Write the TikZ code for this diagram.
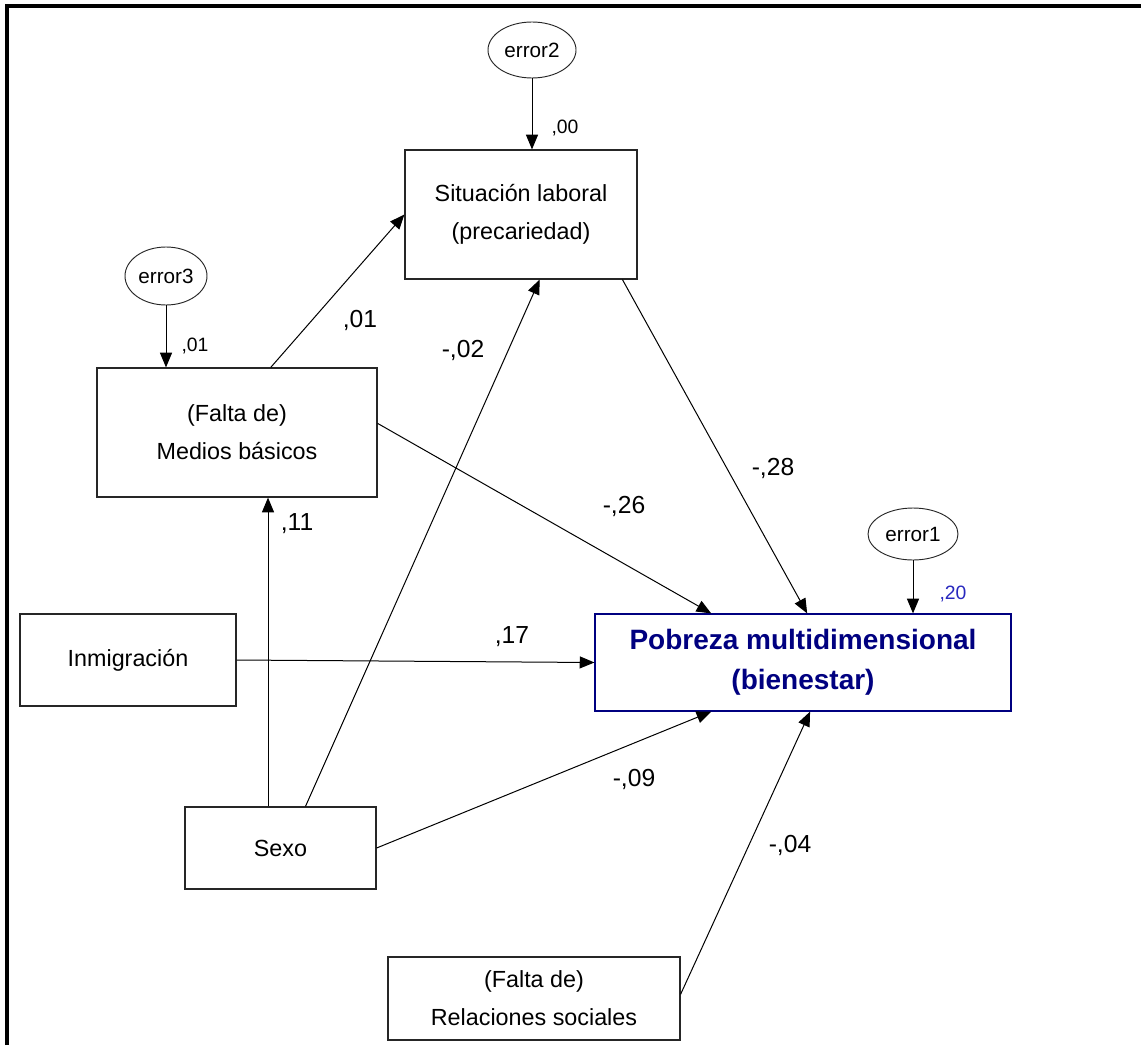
\documentclass[tikz,border=0pt]{standalone}
\usepackage{fontspec}
\setmainfont{Liberation Sans}
\usepackage{tikz}
\usetikzlibrary{arrows.meta, calc, shapes.geometric}
\definecolor{pobblue}{RGB}{0,0,128}
\definecolor{varblue}{RGB}{40,40,190}

\begin{document}
\begin{tikzpicture}[x=0.75pt,y=-0.75pt,>={Triangle[length=11pt,width=9pt]},
    box/.style={draw=black!85,line width=0.9pt,align=center,inner sep=0pt,
        font=\fontsize{17.5}{28.5}\selectfont},
    err/.style={ellipse,draw=black!85,line width=0.7pt,inner sep=0pt,
        font=\fontsize{15.5}{17}\selectfont},
    coef/.style={inner sep=0pt,font=\fontsize{18.5}{20}\selectfont},
    r2/.style={inner sep=0pt,font=\fontsize{14.5}{16}\selectfont},
    path/.style={->,line width=0.75pt}]
    \useasboundingbox (0,0) rectangle (1141,1045);
    % frame
    \draw[line width=3pt] (7,1045) -- (7,6) -- (1141,6);

    % observed variables
    \node[box,minimum width=174pt,minimum height=96.75pt] (sit) at (521,214.5)
        {Situación laboral\\(precariedad)};
    \node[box,minimum width=210pt,minimum height=96.75pt] (med) at (237,432.5)
        {(Falta de)\\Medios básicos};
    \node[box,minimum width=162pt,minimum height=69pt] (inm) at (128,660)
        {Inmigración};
    \node[box,minimum width=143.25pt,minimum height=61.5pt] (sexo) at (280.5,848)
        {Sexo};
    \node[box,minimum width=219pt,minimum height=62.25pt] (rel) at (534,998.5)
        {(Falta de)\\Relaciones sociales};
    \node[box,draw=pobblue,text=pobblue,minimum width=312pt,minimum height=72.75pt,
        font=\fontsize{21}{30}\selectfont\bfseries] (pob) at (803,662.5)
        {Pobreza multidimensional\\(bienestar)};

    % error terms
    \node[err,minimum width=66pt,minimum height=42pt] (e2) at (532,50) {error2};
    \node[err,minimum width=61.5pt,minimum height=43.5pt] (e3) at (166,276) {error3};
    \node[err,minimum width=67.5pt,minimum height=39pt] (e1) at (913,534) {error1};

    \draw[path] (e2.south) -- (e2.south |- sit.north);
    \draw[path] (e3.south) -- (e3.south |- med.north);
    \draw[path] (e1.south) -- (e1.south |- pob.north);

    % paths
    \coordinate (sx1) at ($(sexo.north west)!.435!(sexo.north east)$);
    \coordinate (sx2) at ($(sexo.north west)!.63!(sexo.north east)$);
    \draw[path] (sx1) -- (sx1 |- med.south);
    \draw[path] (sx2) -- ($(sit.south west)!.58!(sit.south east)$);
    \draw[path] (sexo.east) -- ($(pob.south west)!.28!(pob.south east)$);
    \draw[path] ($(med.north west)!.62!(med.north east)$) -- (sit.west);
    \draw[path] ($(med.north east)!.43!(med.south east)$) -- ($(pob.north west)!.28!(pob.north east)$);
    \draw[path] ($(sit.south west)!.935!(sit.south east)$) -- ($(pob.north west)!.51!(pob.north east)$);
    \draw[path] (inm.east) -- (pob.west);
    \draw[path] ($(rel.north east)!.45!(rel.south east)$) -- ($(pob.south west)!.517!(pob.south east)$);

    % estimates
    \node[r2] (v2) at (565,128) {,00};
    \node[r2] (v3) at (195,346) {,01};
    \node[r2,text=varblue] (v1) at (953,594) {,20};
    \node[coef] (c1) at (360,320) {,01};
    \node[coef] (c2) at (463,350) {-,02};
    \node[coef] (c3) at (297,524) {,11};
    \node[coef] (c4) at (624,506) {-,26};
    \node[coef] (c5) at (773,468) {-,28};
    \node[coef] (c6) at (512,637) {,17};
    \node[coef] (c7) at (634,779) {-,09};
    \node[coef] (c8) at (790,845) {-,04};
\end{tikzpicture}
\end{document}
